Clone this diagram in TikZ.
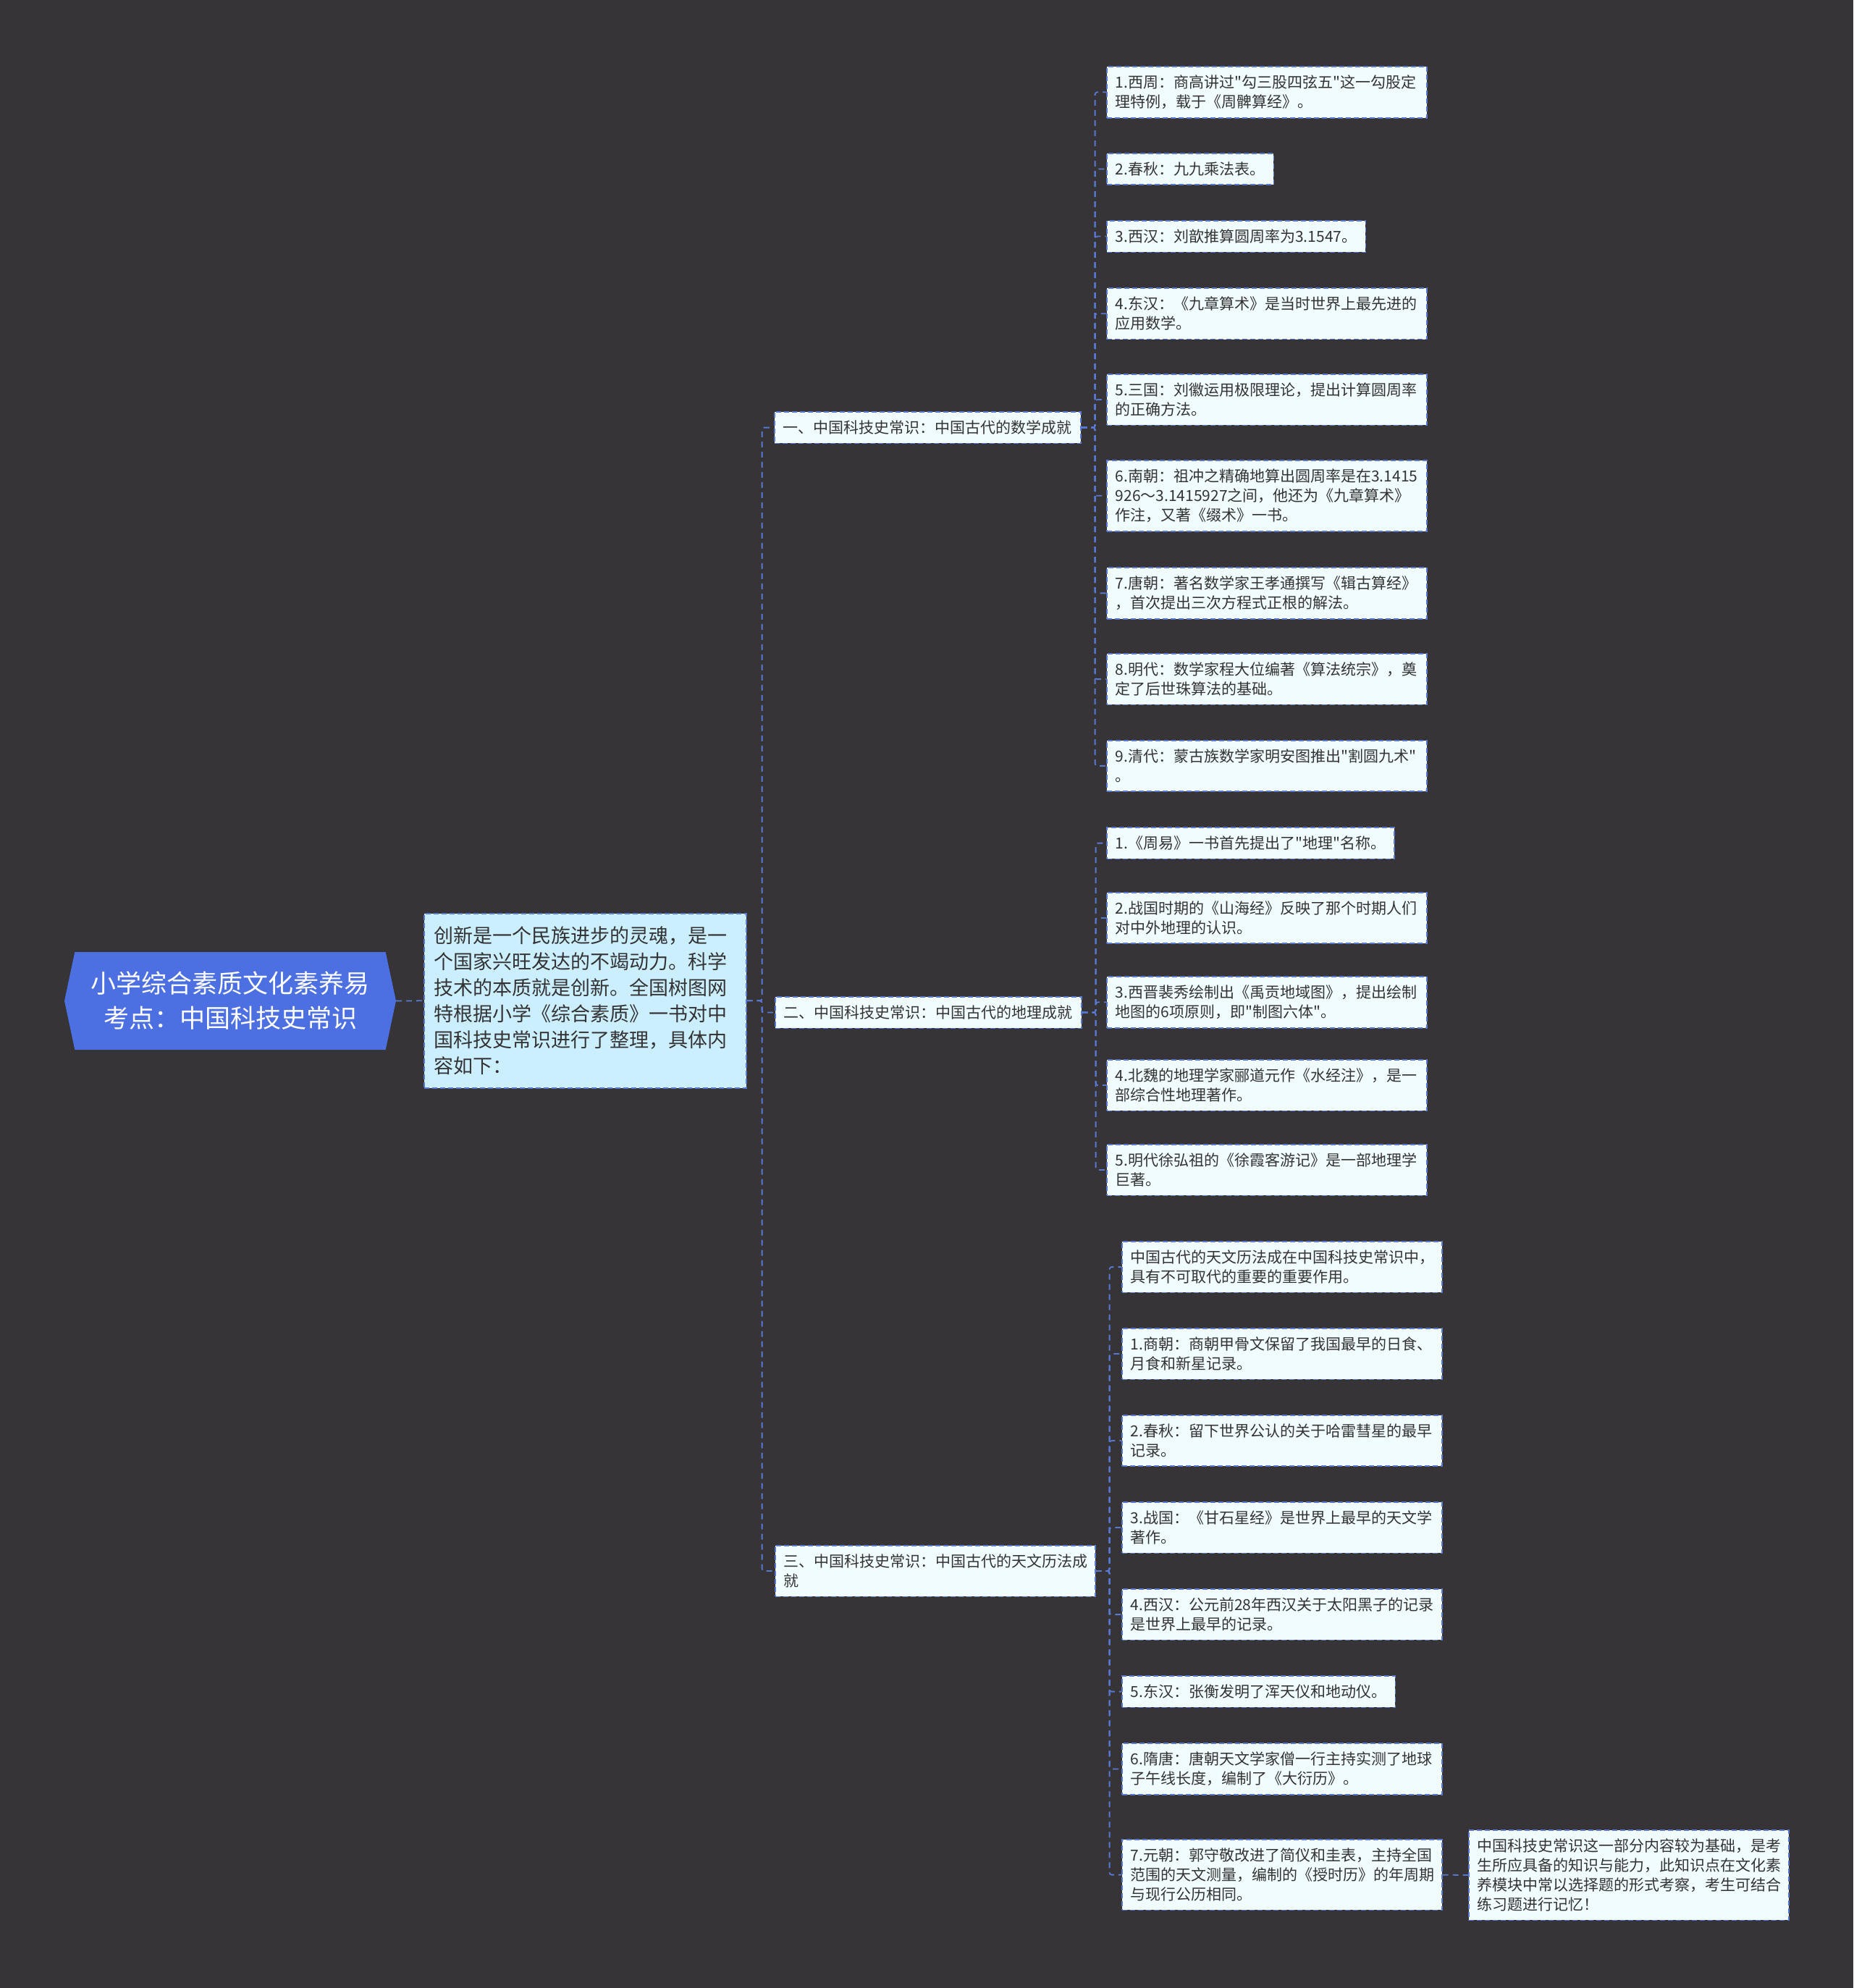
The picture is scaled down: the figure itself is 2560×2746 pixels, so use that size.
\documentclass[tikz,border=0pt]{standalone}
\usepackage{fontspec}
\setmainfont{Noto Sans CJK SC}[Ligatures=TeXOff]
\usepackage{tikz}
\usetikzlibrary{shapes.symbols}
\definecolor{canvasgray}{RGB}{54,52,54}
\definecolor{rootblue}{RGB}{76,111,226}
\definecolor{introcyan}{RGB}{204,239,255}
\definecolor{leafcyan}{RGB}{241,252,255}
\definecolor{linkblue}{RGB}{88,120,210}
\definecolor{inkgray}{RGB}{51,51,51}

\begin{document}
\begin{tikzpicture}[x=1pt, y=-1pt,
    box/.style={rectangle, fill=leafcyan, draw=linkblue, line width=1.6pt, dash pattern=on 7pt off 4pt, text=inkgray, align=left, anchor=north west, inner xsep=12pt, inner ysep=12pt, font=\fontsize{21}{27}\selectfont},
    widebox/.style={box, text width=418pt},
    link/.style={draw=linkblue, line width=1.8pt, dash pattern=on 8pt off 6pt, rounded corners=3pt}]
    \fill[canvasgray] (0,0) rectangle (2560,2746);
    % root and intro
    \node[signal, signal to=east and west, signal pointer angle=156, fill=rootblue, text=white, minimum width=458pt, minimum height=135pt, align=center, font=\fontsize{35}{48}\selectfont] (root) at (318,1382.5) {小学综合素质文化素养易\\考点：中国科技史常识};
    \node[box, fill=introcyan, text width=417pt, inner xsep=14pt, inner ysep=18pt, font=\fontsize{27}{36}\selectfont] (intro) at (585,1261) {创新是一个民族进步的灵魂，是一\\个国家兴旺发达的不竭动力。科学\\技术的本质就是创新。全国树图网\\特根据小学《综合素质》一书对中\\国科技史常识进行了整理，具体内\\容如下：};
    % categories
    \node[box] (cat1) at (1069,568) {一、中国科技史常识：中国古代的数学成就};
    \node[box] (cat2) at (1070,1376) {二、中国科技史常识：中国古代的地理成就};
    \node[widebox] (cat3) at (1070,2134) {三、中国科技史常识：中国古代的天文历法成\\就};
    % mathematics
    \node[widebox] (m1) at (1528,91) {1.西周：商高讲过"勾三股四弦五"这一勾股定\\理特例，载于《周髀算经》。};
    \node[box] (m2) at (1528,211) {2.春秋：九九乘法表。};
    \node[box] (m3) at (1528,304) {3.西汉：刘歆推算圆周率为3.1547。};
    \node[widebox] (m4) at (1528,397) {4.东汉：《九章算术》是当时世界上最先进的\\应用数学。};
    \node[widebox] (m5) at (1528,516) {5.三国：刘徽运用极限理论，提出计算圆周率\\的正确方法。};
    \node[widebox] (m6) at (1528,635) {6.南朝：祖冲之精确地算出圆周率是在3.1415\\926～3.1415927之间，他还为《九章算术》\\作注，又著《缀术》一书。};
    \node[widebox] (m7) at (1528,783) {7.唐朝：著名数学家王孝通撰写《辑古算经》\\，首次提出三次方程式正根的解法。};
    \node[widebox] (m8) at (1528,902) {8.明代：数学家程大位编著《算法统宗》，奠\\定了后世珠算法的基础。};
    \node[widebox] (m9) at (1528,1022) {9.清代：蒙古族数学家明安图推出"割圆九术"\\。};
    % geography
    \node[box] (g1) at (1528,1142) {1.《周易》一书首先提出了"地理"名称。};
    \node[widebox] (g2) at (1528,1232) {2.战国时期的《山海经》反映了那个时期人们\\对中外地理的认识。};
    \node[widebox] (g3) at (1528,1348) {3.西晋裴秀绘制出《禹贡地域图》，提出绘制\\地图的6项原则，即"制图六体"。};
    \node[widebox] (g4) at (1528,1463) {4.北魏的地理学家郦道元作《水经注》，是一\\部综合性地理著作。};
    \node[widebox] (g5) at (1528,1580) {5.明代徐弘祖的《徐霞客游记》是一部地理学\\巨著。};
    % astronomy
    \node[widebox] (a0) at (1549,1714) {中国古代的天文历法成在中国科技史常识中，\\具有不可取代的重要的重要作用。};
    \node[widebox] (a1) at (1549,1834) {1.商朝：商朝甲骨文保留了我国最早的日食、\\月食和新星记录。};
    \node[widebox] (a2) at (1549,1954) {2.春秋：留下世界公认的关于哈雷彗星的最早\\记录。};
    \node[widebox] (a3) at (1549,2074) {3.战国：《甘石星经》是世界上最早的天文学\\著作。};
    \node[widebox] (a4) at (1549,2194) {4.西汉：公元前28年西汉关于太阳黑子的记录\\是世界上最早的记录。};
    \node[box] (a5) at (1549,2314) {5.东汉：张衡发明了浑天仪和地动仪。};
    \node[widebox] (a6) at (1549,2407) {6.隋唐：唐朝天文学家僧一行主持实测了地球\\子午线长度，编制了《大衍历》。};
    \node[widebox] (a7) at (1549,2540) {7.元朝：郭守敬改进了简仪和圭表，主持全国\\范围的天文测量，编制的《授时历》的年周期\\与现行公历相同。};
    \node[widebox] (note) at (2028,2527) {中国科技史常识这一部分内容较为基础，是考\\生所应具备的知识与能力，此知识点在文化素\\养模块中常以选择题的形式考察，考生可结合\\练习题进行记忆！};
    % connectors
    \draw[link] (root.east) -- (intro.west);
    \draw[link] (intro.east) -- ++(21,0) |- (cat1.west);
    \draw[link] (intro.east) -- ++(21,0) |- (cat2.west);
    \draw[link] (intro.east) -- ++(21,0) |- (cat3.west);
    \draw[link] (cat1.east) -- ++(19,0) |- (m1.west);
    \draw[link] (cat1.east) -- ++(19,0) |- (m2.west);
    \draw[link] (cat1.east) -- ++(19,0) |- (m3.west);
    \draw[link] (cat1.east) -- ++(19,0) |- (m4.west);
    \draw[link] (cat1.east) -- ++(19,0) |- (m5.west);
    \draw[link] (cat1.east) -- ++(19,0) |- (m6.west);
    \draw[link] (cat1.east) -- ++(19,0) |- (m7.west);
    \draw[link] (cat1.east) -- ++(19,0) |- (m8.west);
    \draw[link] (cat1.east) -- ++(19,0) |- (m9.west);
    \draw[link] (cat2.east) -- ++(19,0) |- (g1.west);
    \draw[link] (cat2.east) -- ++(19,0) |- (g2.west);
    \draw[link] (cat2.east) -- ++(19,0) |- (g3.west);
    \draw[link] (cat2.east) -- ++(19,0) |- (g4.west);
    \draw[link] (cat2.east) -- ++(19,0) |- (g5.west);
    \draw[link] (cat3.east) -- ++(19,0) |- (a0.west);
    \draw[link] (cat3.east) -- ++(19,0) |- (a1.west);
    \draw[link] (cat3.east) -- ++(19,0) |- (a2.west);
    \draw[link] (cat3.east) -- ++(19,0) |- (a3.west);
    \draw[link] (cat3.east) -- ++(19,0) |- (a4.west);
    \draw[link] (cat3.east) -- ++(19,0) |- (a5.west);
    \draw[link] (cat3.east) -- ++(19,0) |- (a6.west);
    \draw[link] (cat3.east) -- ++(19,0) |- (a7.west);
    \draw[link] (a7.east) -- (note.west);
\end{tikzpicture}
\end{document}
